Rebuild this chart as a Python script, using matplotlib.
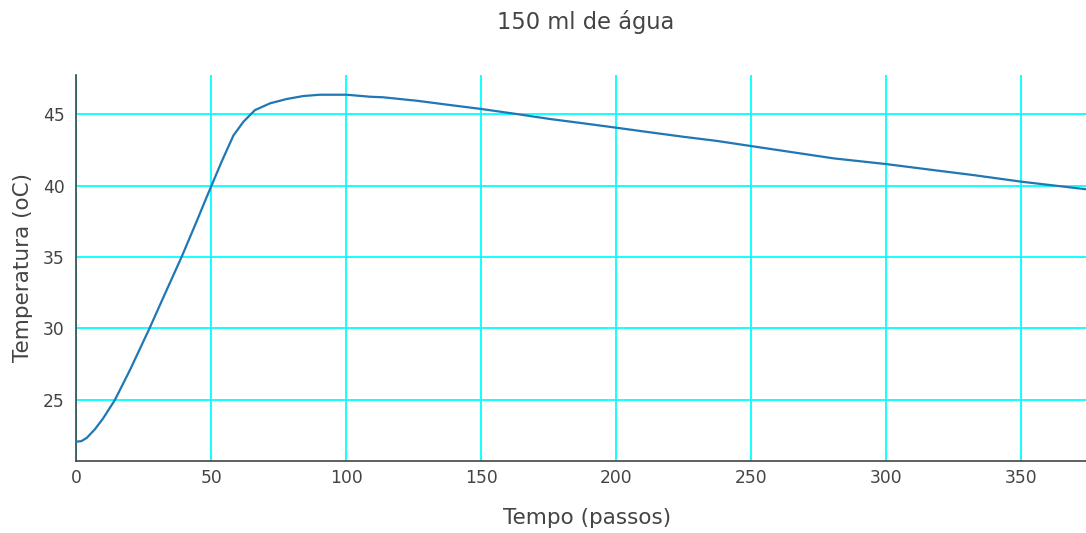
import matplotlib.pyplot as plt

# Temperature readings
tempo = [0, 2, 4, 7, 10, 14.4, 20, 27.2, 33.6, 39.1, 44.7, 48.4, 50.2, 54,
         58.3, 62, 66.3, 71.9, 78, 84.2, 90.4, 100.2, 108.9, 113.8, 126.2,
         138.5, 150.2, 163.2, 175.6, 187.9, 200.2, 212.6, 224.9, 237.3, 250,
         268.1, 280.5, 300, 317.5, 332.3, 350, 374]
temperatura = [22.08, 22.12, 22.35, 22.95, 23.7, 25.0, 27.1, 30.0, 32.7, 35.0,
               37.5, 39.2, 40.0, 41.7, 43.5, 44.46, 45.28, 45.75, 46.05, 46.26,
               46.35, 46.35, 46.21, 46.17, 45.93, 45.63, 45.35, 45.0, 44.65,
               44.35, 44.04, 43.72, 43.41, 43.12, 42.76, 42.25, 41.9, 41.5,
               41.08, 40.73, 40.27, 39.74]
y_ticks = [25, 30, 35, 40, 45]
x_ticks = [0, 50, 100, 150, 200, 250, 300, 350]

plt.rcParams['font.family'] = ['DejaVu Sans']
text_color = '#444444'

fig = plt.figure(figsize=(10.86, 5.33), dpi=100)
ax = fig.add_axes([76 / 1086, 1 - 461 / 533, (1094 - 76) / 1086, (461 - 75) / 533])

ax.plot(tempo, temperatura, color='#1f77b4', linewidth=1.6, zorder=3)

ax.set_xlim(0, 377)
ax.set_ylim(20.73, 47.73)
ax.set_xticks(x_ticks)
ax.set_yticks(y_ticks)
ax.grid(True, color='#00ffff', linewidth=1.3)
ax.set_axisbelow(True)

for side in ['top', 'right']:
    ax.spines[side].set_visible(False)
for side in ['left', 'bottom']:
    ax.spines[side].set_color('#444444')
    ax.spines[side].set_linewidth(1.2)

ax.tick_params(axis='both', length=0, labelsize=12.3, colors=text_color)
ax.tick_params(axis='y', pad=8)
ax.tick_params(axis='x', pad=6)

# axis titles placed in figure pixels like the reference
fig.text(587 / 1086, 1 - 518 / 533, 'Tempo (passos)', fontsize=15.5,
         color=text_color, ha='center', va='center')
fig.text(23 / 1086, 1 - 268 / 533, 'Temperatura (oC)', fontsize=15.5,
         color=text_color, ha='center', va='center', rotation=90)

fig.text(586 / 1086, 1 - 22 / 533, '150 ml de água', fontsize=16.3,
         color=text_color, ha='center', va='center')

plt.savefig('out.png', dpi=100)
